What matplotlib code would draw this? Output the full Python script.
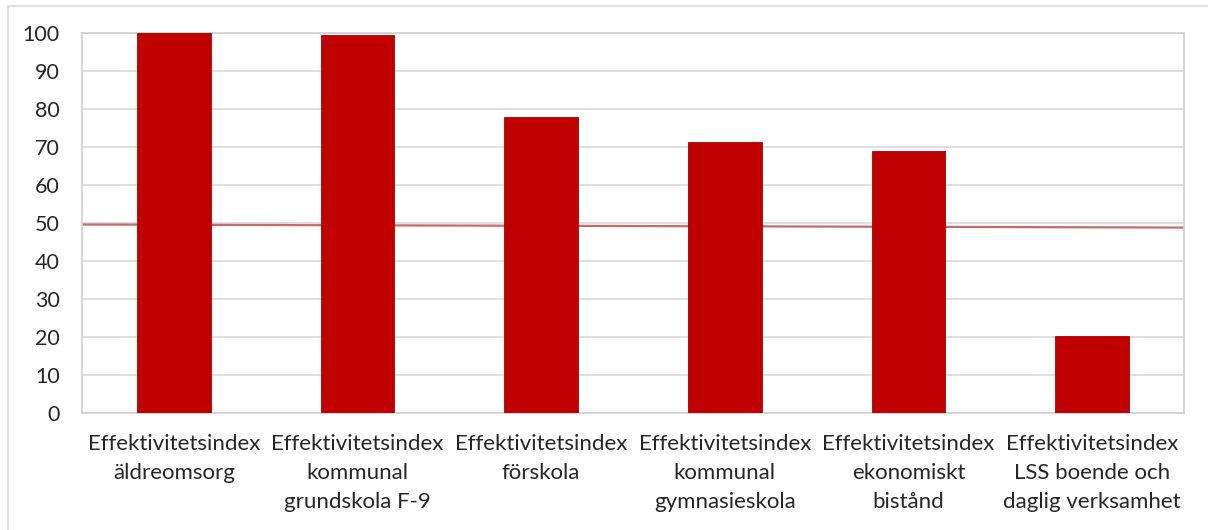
import matplotlib.pyplot as plt
from matplotlib.patches import Rectangle

categories = [
    "Effektivitetsindex\näldreomsorg",
    "Effektivitetsindex\nkommunal\ngrundskola F-9",
    "Effektivitetsindex\nförskola",
    "Effektivitetsindex\nkommunal\ngymnasieskola",
    "Effektivitetsindex\nekonomiskt\nbistånd",
    "Effektivitetsindex\nLSS boende och\ndaglig verksamhet",
]
values = [100, 99.5, 78, 71.4, 69, 20.3]
reference_line = [49.6, 48.8]  # left and right ends of the reference level
y_ticks = list(range(0, 101, 10))

plt.rcParams['font.family'] = ['Lato', 'DejaVu Sans']

fig = plt.figure(figsize=(12.08, 5.30), dpi=100)
ax = fig.add_axes([82 / 1208, 1 - 413 / 530, (1184 - 82) / 1208, (413 - 33) / 530])

x = list(range(len(categories)))
ax.bar(x, values, width=0.4, color='#C00000', edgecolor='#A80000', linewidth=0.6, zorder=3)

ax.set_xlim(-0.5, len(categories) - 0.5)
ax.set_ylim(0, 100)
ax.plot([-0.5, len(categories) - 0.5], reference_line, color='#C0504D', linewidth=1.6,
        alpha=0.85, zorder=2, solid_capstyle='butt')

ax.set_yticks(y_ticks)
ax.set_yticklabels([str(t) for t in y_ticks], fontsize=15.5, color='#262626')
ax.set_xticks(x)
ax.set_xticklabels(categories, fontsize=16, color='#262626', linespacing=1.58)
ax.tick_params(axis='both', length=0)
ax.tick_params(axis='y', pad=16)
ax.tick_params(axis='x', pad=15)

ax.grid(axis='y', color='#D9D9D9', linewidth=1.2, zorder=0)
for side in ['left', 'right', 'top', 'bottom']:
    ax.spines[side].set_color('#D0D0D0')
    ax.spines[side].set_linewidth(1.2)

# light frame around the whole chart
fig.patches.append(Rectangle((8 / 1208, -0.01), 1.05, 1 - 6 / 530 + 0.01,
                             transform=fig.transFigure, fill=False,
                             edgecolor='#E0E0E0', linewidth=1.5))

fig.savefig('out.png', dpi=100)
